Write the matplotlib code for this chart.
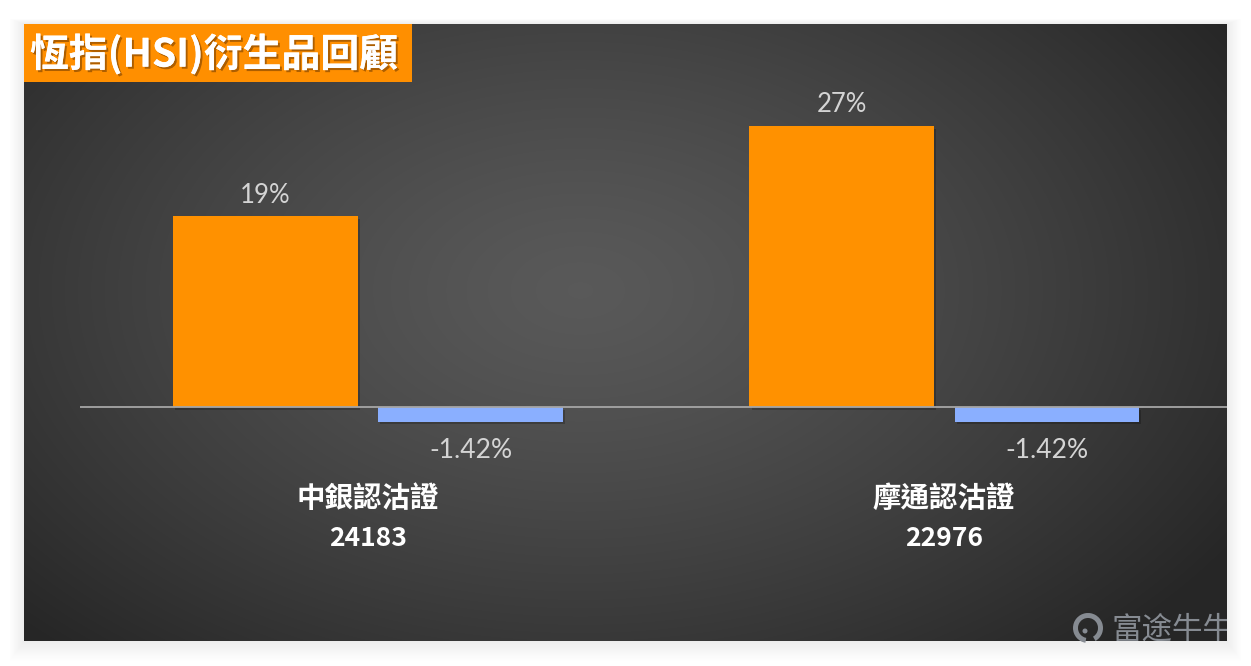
import numpy as np
import matplotlib
matplotlib.use("Agg")
import matplotlib.pyplot as plt
from matplotlib.patches import Rectangle, Circle, Wedge
from matplotlib.transforms import Bbox, TransformedBbox
import matplotlib.patheffects as pe

# ---------------- data ----------------
categories = ["中銀認沽證", "摩通認沽證"]
category_codes = ["24183", "22976"]
series_up = [18.5, 27.3]          # % (orange bars)
series_up_labels = ["19%", "27%"]
series_down = [-1.42, -1.42]      # % (blue bars)
series_down_labels = ["-1.42%", "-1.42%"]
title = "恆指(HSI)衍生品回顧"
watermark = "富途牛牛"

ORANGE = "#FF9100"
BLUE = "#8AAFFF"
LABEL_GRAY = "#D4D4D4"
CJK = ["Noto Sans CJK TC", "DejaVu Sans"]

W, H = 1251, 666
fig = plt.figure(figsize=(W / 100, H / 100), dpi=100)
fig.patch.set_facecolor("white")

def frac(x0, y0, x1, y1):
    return [x0 / W, 1 - y1 / H, (x1 - x0) / W, (y1 - y0) / H]

# ---------- background + shadow (full figure axes in pixel coords) ----------
bg = fig.add_axes([0, 0, 1, 1])
bg.set_xlim(0, W)
bg.set_ylim(H, 0)
bg.axis("off")
PX0, PY0, PX1, PY1 = 24, 24, 1227, 641
for i in range(18, 0, -1):
    bg.add_patch(Rectangle((PX0 - i * 0.8, PY0 - i * 0.3), (PX1 - PX0) + i * 1.6,
                           (PY1 - PY0) + i * 1.4, facecolor="black",
                           alpha=0.004, edgecolor="none"))
yy, xx = np.mgrid[PY0:PY1, PX0:PX1]
d = np.sqrt(((xx - 580) / 680.0) ** 2 + ((yy - 290) / 430.0) ** 2)
v = np.clip(0.35 - 0.17 * d ** 1.3, 0.15, 0.36)
img = np.dstack([v, v, v])
bg.imshow(img, extent=(PX0, PX1, PY1, PY0), interpolation="bilinear", zorder=2)

# title box
bg.add_patch(Rectangle((24, 24), 388, 58, facecolor="#FF8F00", edgecolor="none", zorder=3))
bg.text(30, 54, title, color="white", fontsize=28, fontweight="bold",
        family=CJK, ha="left", va="center", zorder=4,
        path_effects=[pe.withSimplePatchShadow(offset=(1.5, -1.5), shadow_rgbFace="#8a4a00", alpha=0.7),
                      pe.Normal()])

# watermark
WM = "#868b92"
bg.add_patch(Wedge((1088, 628), 15, 100, 420, width=5, facecolor=WM, edgecolor="none", zorder=3))
bg.add_patch(Circle((1085, 631), 2.5, facecolor=WM, edgecolor="none", zorder=3))
wm = bg.text(1111, 630, watermark, color=WM, fontsize=22, family=["Noto Sans CJK SC"],
             ha="left", va="center", zorder=3)
wm.set_clip_on(True)
wm.set_clip_box(TransformedBbox(Bbox([[PX0, PY0], [PX1, PY1]]), bg.transData))

# ---------------- chart axes ----------------
ax = fig.add_axes(frac(80, 81, 1227, 641))
ax.patch.set_alpha(0)
px_per = 10.3
ax.set_ylim(-(641 - 407) / px_per, (407 - 81) / px_per)
ax.set_xlim(-0.5, 1.491)
for s in ax.spines.values():
    s.set_visible(False)
ax.set_xticks([])
ax.set_yticks([])

x = np.arange(len(categories))
bw = 0.32
off = 0.178
shadow = [pe.SimplePatchShadow(offset=(1.5, -2), shadow_rgbFace="black", alpha=0.22), pe.Normal()]
ax.bar(x - off, series_up, bw, color=ORANGE, zorder=3, path_effects=shadow)
ax.bar(x + off, series_down, bw, color=BLUE, zorder=3, path_effects=shadow)
ax.axhline(0, color="#A6A6A6", lw=1.3, zorder=4)

lab_font = ["Lato", "DejaVu Sans"]
for xi, v, t in zip(x - off, series_up, series_up_labels):
    ax.annotate(t, (xi, v), xytext=(0, 21), textcoords="offset pixels",
                ha="center", va="center", color=LABEL_GRAY, fontsize=18.5, family=lab_font)
for xi, v, t in zip(x + off, series_down, series_down_labels):
    ax.annotate(t, (xi, 0), xytext=(0, -44), textcoords="offset pixels",
                ha="center", va="center", color=LABEL_GRAY, fontsize=19, family=lab_font)

for xi, c, code in zip(x, categories, category_codes):
    ax.annotate(c, (xi, 0), xytext=(0, -92), textcoords="offset pixels",
                ha="center", va="center", color="white", fontsize=20.5, fontweight="bold",
                family=CJK)
    ax.annotate(code, (xi, 0), xytext=(0, -131), textcoords="offset pixels",
                ha="center", va="center", color="white", fontsize=19, fontweight="bold",
                family=CJK)

fig.savefig("out.png", dpi=100, facecolor="white")
